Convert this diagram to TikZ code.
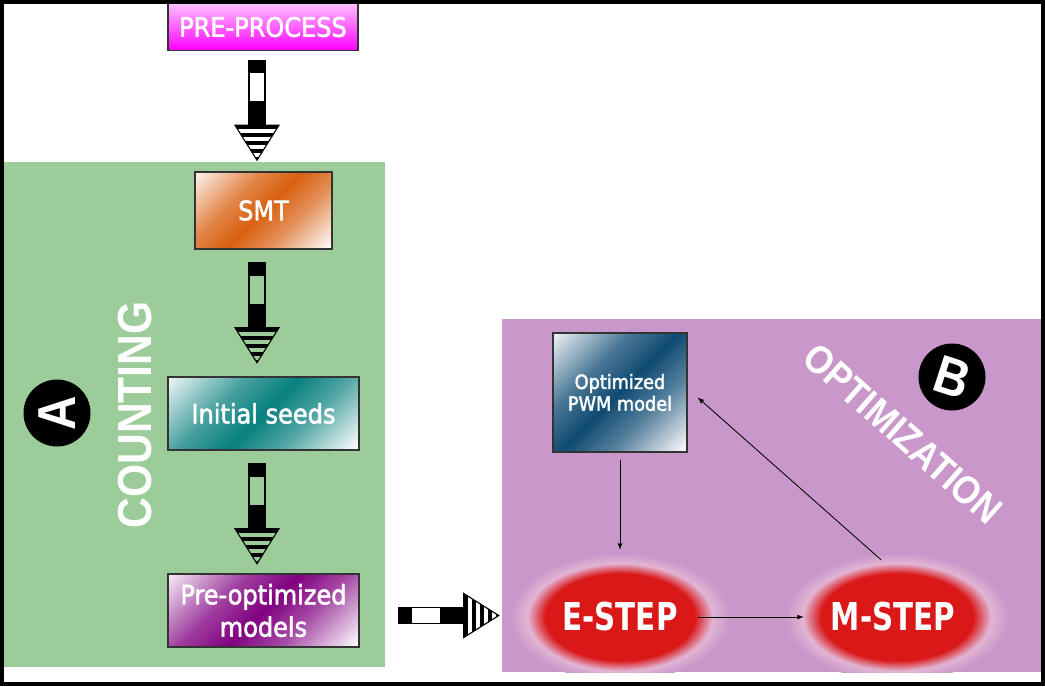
\documentclass[tikz,border=0pt]{standalone}
\usepackage{fontspec}
\setmainfont{DejaVu Sans}
\newfontfamily\boxfont{DejaVu Sans Condensed}[FakeBold=2]
\newfontfamily\stepfont{DejaVu Sans Condensed Bold}[FakeStretch=0.85]
\newfontfamily\bandfont{Liberation Sans Bold}[FakeStretch=0.89]
\usetikzlibrary{calc,shapes,positioning}

\definecolor{countbg}{RGB}{156,204,153}
\definecolor{optbg}{RGB}{201,151,201}
\definecolor{stepred}{RGB}{218,24,24}
\definecolor{glowpink}{RGB}{226,180,212}
\definecolor{smtorange}{RGB}{216,96,16}
\definecolor{seedteal}{RGB}{8,128,126}
\definecolor{previolet}{RGB}{128,0,128}
\definecolor{pwmblue}{RGB}{14,74,114}

\newcommand\pxu{0.025cm}
\newcommand\boxshade[2]{%
  \pgfdeclarehorizontalshading{#1}{100bp}{color(0bp)=(#2!8!white); color(15bp)=(#2!8!white); color(36bp)=(#2!75!white); color(50bp)=(#2); color(64bp)=(#2!70!white); color(85bp)=(white); color(100bp)=(white)}}
\boxshade{smtshade}{smtorange}
\boxshade{seedshade}{seedteal}
\boxshade{preshade}{previolet}
\boxshade{pwmshade}{pwmblue}
\pgfdeclareradialshading{glow}{\pgfpoint{0bp}{0bp}}{color(0bp)=(stepred); color(17bp)=(stepred); color(21bp)=(glowpink); color(25bp)=(optbg); color(50bp)=(optbg)}

\tikzset{%
    stage/.style={%
        rectangle, draw=black!80, line width=1pt, text=white, align=center, inner sep=0pt,
        font=\boxfont\fontsize{19}{23}\selectfont
    },
    stepnode/.style={%
        ellipse, minimum width=146*\pxu, minimum height=88*\pxu, inner sep=0pt, text=white,
        font=\stepfont\fontsize{27.3}{30}\selectfont
    },
    bandlabel/.style={%
        text=white, inner sep=0pt, font=\bandfont\fontsize{34}{36}\selectfont
    },
    badge/.style={%
        circle, fill=black, minimum size=67*\pxu, inner sep=0pt, text=white,
        font=\bandfont\fontsize{38}{40}\selectfont
    },
    link/.style={%
        ->, >=latex, line width=0.6pt
    },
    stripearrow/.pic={%
      \fill (0,-8) rectangle (13,8);
      \fill (41,-8) rectangle (65,8);
      \draw[line width=0.8pt] (0,-8) rectangle (65,8);
      \begin{scope}
        \clip (65,-22) -- (100,0) -- (65,22) -- cycle;
        \foreach \s in {0,8,...,32}
          \fill (65+\s,-22) rectangle ++(3.8,44);
      \end{scope}
      \draw[line width=0.8pt, line join=miter] (65,-22) -- (100,0) -- (65,22) -- cycle;
    },
}

\begin{document}
\begin{tikzpicture}[x=0.025cm, y=-0.025cm]
  \useasboundingbox (0,0) rectangle (1045,686);

  % panels
  \fill[countbg] (4,162) rectangle (385,667);
  \fill[optbg] (502,319) rectangle (1041,672);

  % glow behind the two steps
  \begin{scope}
    \clip (502,319) rectangle (1041,672);
    \shade[shading=glow] (620,617) ellipse [x radius=110, y radius=64];
    \shade[shading=glow] (897,617) ellipse [x radius=112, y radius=64];
  \end{scope}

  % counting part
  \node[stage, minimum width=190*\pxu, minimum height=47*\pxu, top color=magenta!25, bottom color=magenta] (pre) at (263,27) {PRE-PROCESS};
  \node[stage, minimum width=137*\pxu, minimum height=77*\pxu, shading=smtshade, shading angle=-45] (smt) at (263.5,210.5) {SMT};
  \node[stage, minimum width=191*\pxu, minimum height=73*\pxu, shading=seedshade, shading angle=-45] (seeds) at (263.5,413.5) {Initial seeds};
  \node[stage, minimum width=191*\pxu, minimum height=73*\pxu, shading=preshade, shading angle=-45] (preopt) at (263.5,610.5) {Pre-optimized\\models};

  \pic[rotate=-90] at ([shift={(-6,9)}]pre.south) {stripearrow};
  \pic[rotate=-90] at ([shift={(-6.5,13)}]smt.south) {stripearrow};
  \pic[rotate=-90] at ([shift={(-6.5,13)}]seeds.south) {stripearrow};
  \pic at ([shift={(39,5)}]preopt.east) {stripearrow};

  \node[badge, rotate=90] (bada) at (57,413) {A};
  \node[bandlabel, rotate=90] (counting) at (135,415) {COUNTING};

  % optimization part
  \node[stage, minimum width=134*\pxu, minimum height=119*\pxu, shading=pwmshade, shading angle=-45,
        font=\boxfont\fontsize{14}{15.5}\selectfont] (pwm) at (620,392.5) {Optimized\\PWM model};
  \node[stepnode] (estep) at (620,617) {\makebox[0pt]{E-STEP}};
  \node[stepnode] (mstep) at (893,617) {\makebox[0pt]{M-STEP}};

  \node[badge, rotate=-18] (badb) at (952,377) {B};
  \node[bandlabel, rotate=-41.5, font=\bandfont\fontsize{28}{30}\selectfont] (optim) at (903,434) {OPTIMIZATION};

  \draw[link, shorten <=7*\pxu, shorten >=23*\pxu] (pwm.south) -- (pwm.south |- estep.north);
  \draw[link, shorten <=5*\pxu, shorten >=16*\pxu] (estep.east) -- (mstep.west);
  \draw[link] ([shift={(-12,-13)}]mstep.north) -- ([shift={(10,5)}]pwm.east);

  % frame
  \draw[line width=4*\pxu] (2,2) rectangle (1043,684);
\end{tikzpicture}
\end{document}
